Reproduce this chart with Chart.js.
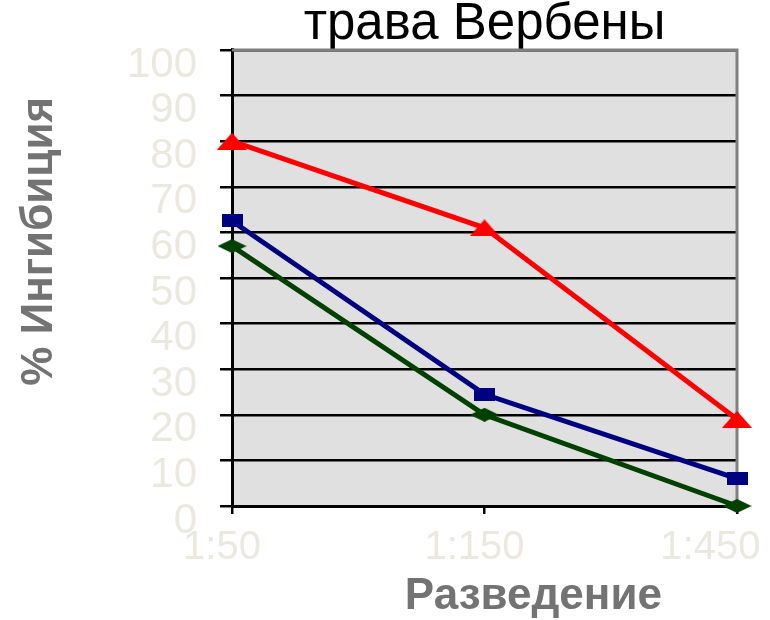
<!DOCTYPE html>
<html>
<head>
<meta charset="utf-8">
<script src="https://cdn.jsdelivr.net/npm/chart.js@4.4.1/dist/chart.umd.min.js"></script>
<style>
  html, body { margin: 0; padding: 0; background: #ffffff; }
  #wrap { width: 770px; height: 620px; }
</style>
</head>
<body>
<div id="wrap"><canvas id="grafico" width="770" height="620"></canvas></div>
<script>
var diluciones = ['1:50', '1:150', '1:450   '];
var serieRoja = [80, 61, 19];
var serieAzul = [62.5, 24.5, 6];
var serieVerde = [57, 20, 0];
var etiquetasY = [0, 10, 20, 30, 40, 50, 60, 70, 80, 90, 100];

var colorTicks = '#ebe9df';
var colorTitulos = '#737373';

// marcadores estirados como en el original
function crearMarcador(ancho, alto, color, forma) {
    var c = document.createElement('canvas');
    c.width = ancho;
    c.height = alto;
    var ctx = c.getContext('2d');
    ctx.fillStyle = color;
    ctx.beginPath();
    if (forma === 'triangulo') {
        ctx.moveTo(ancho / 2, 0);
        ctx.lineTo(ancho, alto);
        ctx.lineTo(0, alto);
    } else if (forma === 'rombo') {
        ctx.moveTo(ancho / 2, 0);
        ctx.lineTo(ancho, alto / 2);
        ctx.lineTo(ancho / 2, alto);
        ctx.lineTo(0, alto / 2);
    } else {
        ctx.rect(0, 0, ancho, alto);
    }
    ctx.closePath();
    ctx.fill();
    return c;
}

var fondoArea = {
    id: 'fondoArea',
    beforeDraw: function(chart) {
        var a = chart.chartArea;
        var ctx = chart.ctx;
        ctx.save();
        ctx.fillStyle = '#e0e0e0';
        ctx.fillRect(a.left, a.top, a.right - a.left, a.bottom - a.top);
        ctx.restore();
    },
    beforeDatasetsDraw: function(chart) {
        var a = chart.chartArea;
        var ctx = chart.ctx;
        ctx.save();
        ctx.strokeStyle = '#808080';
        ctx.lineWidth = 3;
        ctx.beginPath();
        ctx.moveTo(a.left, a.top);
        ctx.lineTo(a.right, a.top);
        ctx.lineTo(a.right, a.bottom);
        ctx.stroke();
        ctx.restore();
    }
};

var ctx = document.getElementById('grafico').getContext('2d');
var grafico = new Chart(ctx, {
    type: 'line',
    data: {
        labels: diluciones,
        datasets: [{
            label: 'Серия 1',
            data: serieRoja,
            borderColor: '#ff0000',
            backgroundColor: '#ff0000',
            borderWidth: 5,
            pointStyle: crearMarcador(30, 17, '#ff0000', 'triangulo'),
            clip: false
        }, {
            label: 'Серия 2',
            data: serieAzul,
            borderColor: '#000080',
            backgroundColor: '#000080',
            borderWidth: 5,
            pointStyle: crearMarcador(21, 13, '#000080', 'cuadrado'),
            clip: false
        }, {
            label: 'Серия 3',
            data: serieVerde,
            borderColor: '#004000',
            backgroundColor: '#004000',
            borderWidth: 5,
            pointStyle: crearMarcador(29, 14, '#004000', 'rombo'),
            clip: false
        }]
    },
    options: {
        responsive: false,
        animation: false,
        layout: { padding: { right: 33, left: 0, top: 0, bottom: 0 } },
        plugins: {
            legend: { display: false },
            tooltip: { enabled: false },
            title: {
                display: true,
                text: 'трава Вербены',
                color: '#000000',
                fullSize: false,
                font: { family: 'Arial, "Liberation Sans"', size: 51, weight: 'normal', lineHeight: 0.98 },
                padding: { top: 0, bottom: 0 }
            }
        },
        scales: {
            x: {
                type: 'category',
                offset: false,
                ticks: {
                    color: colorTicks,
                    font: { family: 'Arial, "Liberation Sans"', size: 40 },
                    padding: 10,
                    labelOffset: -10,
                    maxRotation: 0,
                    autoSkip: false
                },
                grid: { drawOnChartArea: false, tickLength: 8, color: '#000000', lineWidth: 2.5 },
                border: { color: '#000000', width: 3 },
                title: {
                    display: true,
                    text: '        Разведение',
                    color: colorTitulos,
                    font: { family: 'Arial, "Liberation Sans"', size: 44, weight: 'bold', lineHeight: 1 },
                    padding: { top: 0, bottom: 1 }
                },
                afterFit: function(escala) {
                    escala.height = 114;
                    escala.paddingLeft = 0;
                    escala.paddingRight = 0;
                }
            },
            y: {
                min: 0,
                max: 100,
                afterBuildTicks: function(escala) {
                    escala.ticks = etiquetasY.map(function(v) { return { value: v }; });
                },
                ticks: {
                    color: colorTicks,
                    font: { family: 'Arial, "Liberation Sans"', size: 42 },
                    padding: 23,
                    labelOffset: 15,
                    autoSkip: false
                },
                grid: { color: '#000000', lineWidth: 2.5, tickLength: 12, tickColor: '#000000' },
                border: { color: '#000000', width: 3 },
                title: {
                    display: true,
                    text: '      % Ингибиция',
                    color: colorTitulos,
                    font: { family: 'Arial, "Liberation Sans"', size: 44, weight: 'bold', lineHeight: 1 },
                    padding: { top: 18, bottom: 0 }
                },
                afterFit: function(escala) {
                    escala.width = 232;
                    escala.paddingTop = 0;
                    escala.paddingBottom = 0;
                }
            }
        }
    },
    plugins: [fondoArea]
});
</script>
</body>
</html>
